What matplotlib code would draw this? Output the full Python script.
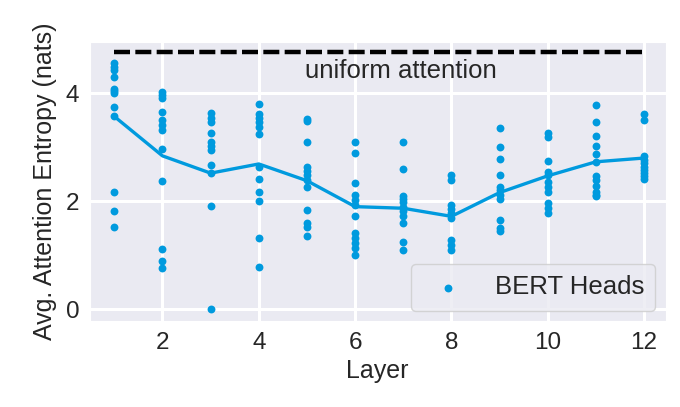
import numpy as np
import matplotlib
matplotlib.use("Agg")
import matplotlib.pyplot as plt
import seaborn as sns

sns.set_style("darkgrid")
plt.rcParams['font.family'] = ['Liberation Sans', 'DejaVu Sans']

layers = [1, 2, 3, 4, 5, 6, 7, 8, 9, 10, 11, 12]
head_entropy = [
    [4.56, 4.49, 4.43, 4.30, 4.07, 4.04, 4.01, 3.75, 3.57, 2.17, 1.81, 1.52],
    [4.03, 3.97, 3.91, 3.66, 3.51, 3.41, 3.32, 2.96, 2.38, 1.11, 0.90, 0.76],
    [3.63, 3.54, 3.46, 3.27, 3.10, 3.02, 2.95, 2.67, 2.52, 1.91, 0.00],
    [3.80, 3.62, 3.54, 3.46, 3.37, 3.24, 2.64, 2.41, 2.18, 2.01, 1.31, 0.79],
    [3.52, 3.48, 3.10, 2.64, 2.56, 2.49, 2.40, 2.26, 1.84, 1.59, 1.52, 1.36],
    [3.10, 2.90, 2.33, 2.12, 2.02, 1.93, 1.73, 1.41, 1.31, 1.22, 1.13, 1.01],
    [3.10, 2.59, 2.10, 2.04, 1.99, 1.90, 1.81, 1.72, 1.59, 1.25, 1.10],
    [2.49, 2.40, 1.93, 1.85, 1.78, 1.69, 1.28, 1.19, 1.10],
    [3.36, 3.01, 2.78, 2.49, 2.27, 2.20, 2.12, 2.04, 1.65, 1.50, 1.44],
    [3.26, 3.19, 2.74, 2.55, 2.49, 2.36, 2.27, 2.18, 1.96, 1.87, 1.79],
    [3.78, 3.46, 3.21, 3.02, 2.88, 2.73, 2.47, 2.39, 2.28, 2.18, 2.12, 2.09],
    [3.62, 3.51, 2.83, 2.77, 2.70, 2.64, 2.58, 2.52, 2.46, 2.41],
]
layer_mean = [3.57, 2.84, 2.52, 2.69, 2.38, 1.90, 1.87, 1.72, 2.16, 2.47, 2.73, 2.80]
uniform = 4.77

color = '#009ade'

fig = plt.figure(figsize=(6.8, 4.07), dpi=100)
ax = fig.add_axes([0.132, 0.211, 0.847, 0.686])
ax.grid(True, color='white', lw=2.2)

xs = []
ys = []
for l, vals in zip(layers, head_entropy):
    xs += [l] * len(vals)
    ys += vals
ax.scatter(xs, ys, s=32, color=color, linewidths=0, label='BERT Heads', zorder=3)
ax.plot(layers, layer_mean, color=color, lw=2.4, zorder=3)
ax.plot([layers[0], layers[-1]], [uniform, uniform], color='black', lw=3.2,
        linestyle=(0, (3.6, 1.2)), zorder=3)
ax.text(4.95, 4.42, 'uniform attention', fontsize=18.5, color='0.15', ha='left', va='center')

ax.set_xlim(0.49, 12.45)
ax.set_ylim(-0.22, 4.95)
ax.set_xticks([2, 4, 6, 8, 10, 12])
ax.set_yticks([0, 2, 4])
ax.tick_params(labelsize=17.5, colors='0.15', pad=4)
ax.set_xlabel('Layer', fontsize=18, color='0.15', labelpad=4)
ax.set_ylabel('Avg. Attention Entropy (nats)', fontsize=18, color='0.15', labelpad=6)
ax.legend(loc='lower right', fontsize=18.5, markerscale=1.0, handletextpad=0.8,
          borderaxespad=0.4, borderpad=0.45, edgecolor='0.8')

fig.savefig('out.png', dpi=100)
